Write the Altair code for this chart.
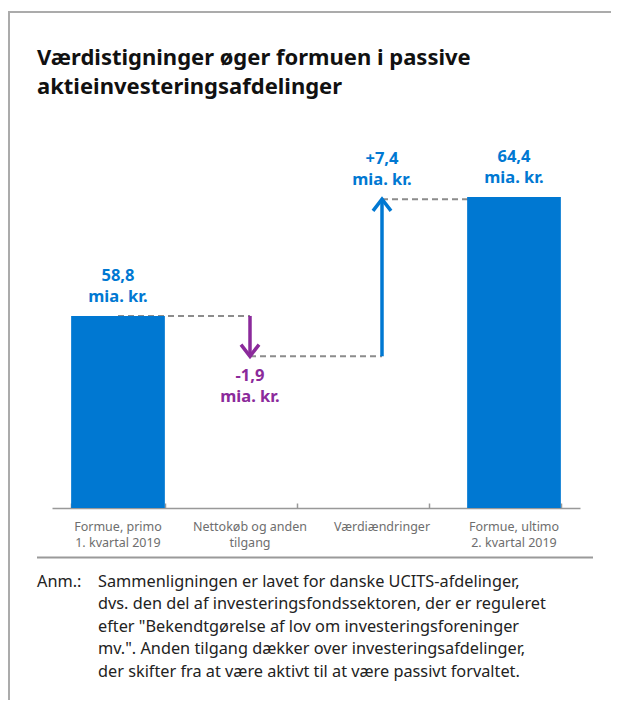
import altair as alt
import pandas as pd

# ---------------- data ----------------
categories = [
    "Formue, primo\n1. kvartal 2019",
    "Nettokøb og anden\ntilgang",
    "Værdiændringer",
    "Formue, ultimo\n2. kvartal 2019",
]
start_value = 58.8
changes = [-1.9, 7.4]
end_value = 64.4
unit = "mia. kr."

title_lines = ["Værdistigninger øger formuen i passive", "aktieinvesteringsafdelinger"]
note_label = "Anm.:"
note_lines = [
    "Sammenligningen er lavet for danske UCITS-afdelinger,",
    "dvs. den del af investeringsfondssektoren, der er reguleret",
    "efter \"Bekendtgørelse af lov om investeringsforeninger",
    "mv.\". Anden tilgang dækker over investeringsafdelinger,",
    "der skifter fra at være aktivt til at være passivt forvaltet.",
]

# ---------------- style ----------------
BLUE = "#0078D2"
PURPLE = "#8B2A9B"
DASH = "#8C8C8C"
FRAME = "#ABABAB"
FONT = "Noto Sans"
W, H = 528, 382
Y_MIN, Y_MAX = 49.75, 67.75


def fmt(v, sign=False):
    s = f"{v:+.1f}" if sign else f"{v:.1f}"
    return s.replace(".", ",")


levels = [start_value]
for c in changes:
    levels.append(round(levels[-1] + c, 1))

cats = pd.DataFrame({"cat": categories})
cats["line1"] = [c.split("\n")[0] for c in categories]
cats["line2"] = [c.split("\n")[1] if "\n" in c else "" for c in categories]

bars = pd.DataFrame({"cat": [categories[0], categories[-1]], "value": [start_value, end_value]})
bars["num"] = [fmt(v) for v in bars["value"]]
bars["unit"] = unit

arrows = pd.DataFrame({
    "cat": categories[1:3],
    "y0": levels[:-1],
    "y1": levels[1:],
    "change": changes,
})
arrows["dir"] = ["up" if c > 0 else "down" for c in changes]
arrows["angle"] = [0 if c > 0 else 180 for c in changes]
arrows["num"] = [fmt(c, sign=True) for c in changes]
arrows["unit"] = unit

conns = pd.DataFrame({
    "from": categories[:-1],
    "to": categories[1:],
    "level": levels,
})

xscale = alt.Scale(domain=categories, paddingInner=0.29, paddingOuter=0.145)
yscale = alt.Scale(domain=[Y_MIN, Y_MAX], nice=False, zero=False)
axis_x = alt.Axis(
    title=None,
    labels=False,
    domainColor="#999999",
    domainWidth=1.5,
    tickColor="#999999",
    tickWidth=1.5,
    tickSize={"expr": "-5"},
    tickBand="extent",
)
colscale = alt.Scale(domain=["down", "up"], range=[PURPLE, BLUE])


def X(field):
    return alt.X(f"{field}:N", scale=xscale, axis=axis_x, sort=categories)


def Y(field):
    return alt.Y(f"{field}:Q", scale=yscale, axis=None)


COL = alt.Color("dir:N", scale=colscale, legend=None)

connector = alt.Chart(conns).mark_rule(
    color=DASH, strokeWidth=2, strokeDash=[6, 4]
).encode(x=X("from"), x2="to:N", y=Y("level"))

bar = alt.Chart(bars).mark_bar(color=BLUE).encode(
    x=X("cat"), y=Y("value"), y2=alt.datum(Y_MIN)
)

xl = dict(font=FONT, fontSize=12.5, color="#6E6E6E", baseline="alphabetic")
xlab1 = alt.Chart(cats).mark_text(**xl).encode(
    x=X("cat"), y=alt.value(H + 22.5), text="line1:N")
xlab2 = alt.Chart(cats).mark_text(**xl).encode(
    x=X("cat"), y=alt.value(H + 38.5), text="line2:N")

lab = dict(font=FONT, fontSize=16.5, fontWeight="bold", baseline="middle")

bar_num = alt.Chart(bars).mark_text(color=BLUE, dy=-40, **lab).encode(
    x=X("cat"), y=Y("value"), text="num:N")
bar_unit = alt.Chart(bars).mark_text(color=BLUE, dy=-19, **lab).encode(
    x=X("cat"), y=Y("value"), text="unit:N")

shaft = alt.Chart(arrows).mark_rule(strokeWidth=3.5).encode(
    x=X("cat"), y=Y("y0"), y2="y1:Q", color=COL,
)

head = alt.Chart(arrows).mark_point(
    shape="M -1 1.3 L 0 0 L 1 1.3", filled=False, strokeWidth=3.5, size=324,
    opacity=1, strokeJoin="miter", strokeCap="butt",
).encode(
    x=X("cat"), y=Y("y1"),
    angle=alt.Angle("angle:Q", scale=None),
    color=COL,
)

up = arrows[arrows["change"] > 0]
down = arrows[arrows["change"] < 0]

up_num = alt.Chart(up).mark_text(dy=-40, **lab).encode(
    x=X("cat"), y=Y("y1"), text="num:N", color=COL)
up_unit = alt.Chart(up).mark_text(dy=-19, **lab).encode(
    x=X("cat"), y=Y("y1"), text="unit:N", color=COL)
down_num = alt.Chart(down).mark_text(dy=20, **lab).encode(
    x=X("cat"), y=Y("y1"), text="num:N", color=COL)
down_unit = alt.Chart(down).mark_text(dy=41, **lab).encode(
    x=X("cat"), y=Y("y1"), text="unit:N", color=COL)

one = pd.DataFrame({"title": ["\n".join(title_lines)], "anm": [note_label], "note": ["\n".join(note_lines)]})

title = alt.Chart(one).mark_text(
    font=FONT, fontSize=22, fontWeight="bold", color="#111111",
    align="left", baseline="alphabetic", lineBreak="\n", lineHeight=29,
).encode(x=alt.value(-15), y=alt.value(-61), text="title:N")

anm = alt.Chart(one).mark_text(
    font=FONT, fontSize=16.3, color="#222222", align="left", baseline="alphabetic",
).encode(x=alt.value(-15), y=alt.value(460.5), text="anm:N")

note = alt.Chart(one).mark_text(
    font=FONT, fontSize=16.3, color="#222222", align="left", baseline="alphabetic",
    lineBreak="\n", lineHeight=22.5,
).encode(x=alt.value(46), y=alt.value(460.5), text="note:N")

frame_left = alt.Chart(one).mark_rule(color=FRAME, strokeWidth=2).encode(
    x=alt.value(-43), y=alt.value(-114), y2=alt.value(H + 200)
)
frame_top = alt.Chart(one).mark_rule(color=FRAME, strokeWidth=2).encode(
    x=alt.value(-44), x2=alt.value(W + 31), y=alt.value(-114)
)
separator = alt.Chart(one).mark_rule(color="#9A9A9A", strokeWidth=2).encode(
    x=alt.value(-15), x2=alt.value(541), y=alt.value(431.5)
)

chart = alt.layer(
    frame_left, frame_top, separator, title, anm, note,
    connector, bar, xlab1, xlab2, bar_num, bar_unit, shaft, head,
    up_num, up_unit, down_num, down_unit,
).properties(
    width=W, height=H,
    background="white",
    autosize=alt.AutoSizeParams(type="none"),
    padding={"left": 44, "top": 118, "right": 31, "bottom": 192},
).configure_view(stroke=None)

chart.save("out.html", embed_options={"renderer": "svg", "actions": False})
